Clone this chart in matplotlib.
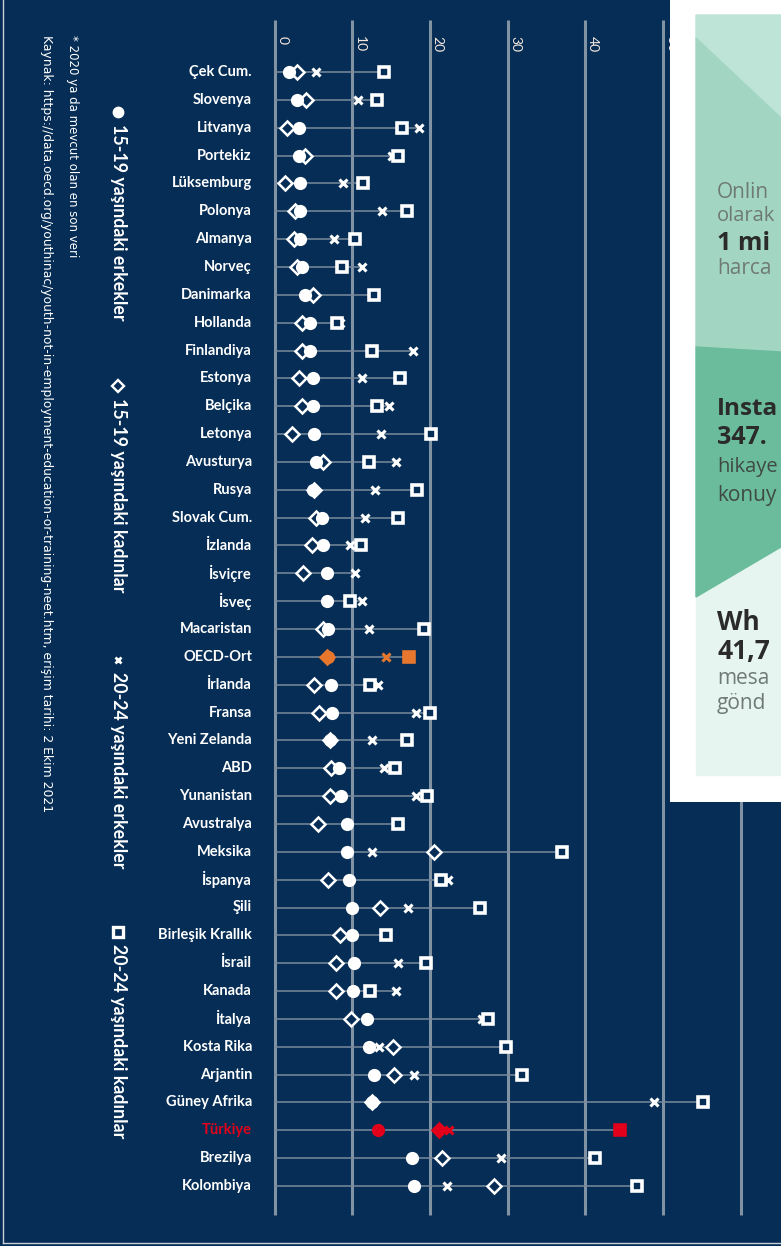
import numpy as np
import matplotlib.pyplot as plt
from matplotlib import font_manager
from matplotlib.patches import Polygon, Rectangle

nan = np.nan

countries = ["Çek Cum.", "Slovenya", "Litvanya", "Portekiz", "Lüksemburg", "Polonya",
             "Almanya", "Norveç", "Danimarka", "Hollanda", "Finlandiya", "Estonya",
             "Belçika", "Letonya", "Avusturya", "Rusya", "Slovak Cum.", "İzlanda",
             "İsviçre", "İsveç", "Macaristan", "OECD-Ort", "İrlanda", "Fransa",
             "Yeni Zelanda", "ABD", "Yunanistan", "Avustralya", "Meksika", "İspanya",
             "Şili", "Birleşik Krallık", "İsrail", "Kanada", "İtalya", "Kosta Rika",
             "Arjantin", "Güney Afrika", "Türkiye", "Brezilya", "Kolombiya"]

# 15-19 erkek (daire)
male_15_19 = [1.9, 2.9, 3.2, 3.2, 3.3, 3.3, 3.3, 3.5, 3.9, 4.6, 4.6, 4.9, 5.0, 5.1,
              5.3, 5.0, 6.1, 6.2, 6.8, 6.8, 6.9, 6.9, 7.3, 7.4, 7.1, 8.3, 8.5, 9.3,
              9.3, 9.6, 10.0, 10.0, 10.2, 10.1, 11.9, 12.2, 12.8, 12.6, 13.3, 17.7, 18.0]
# 15-19 kadin (elmas)
female_15_19 = [2.9, 4.1, 1.6, 3.9, 1.35, 2.6, 2.5, 2.9, 4.9, 3.5, 3.5, 3.2, 3.5, 2.2,
                6.2, 5.1, 5.3, 4.8, 3.7, nan, 6.2, 6.8, 5.1, 5.7, 7.1, 7.3, 7.1, 5.6,
                20.5, 6.9, 13.6, 8.4, 7.9, 7.9, 9.8, 15.2, 15.4, 12.6, 21.2, 21.6, 28.2]
# 20-24 erkek (x)
male_20_24 = [5.4, 10.7, 18.6, 15.1, 8.8, 13.8, 7.7, 11.3, nan, 8.4, 17.8, 11.3, 14.8, 13.7,
              15.6, 12.9, 11.6, 9.7, 10.3, 11.3, 12.2, 14.3, 13.3, 18.2, 12.6, 14.1, 18.2, nan,
              12.6, 22.3, 17.2, nan, 15.9, 15.7, 26.7, 13.4, 17.9, 48.9, 22.4, 29.2, 22.2]
# 20-24 kadin (kare)
female_20_24 = [14.1, 13.2, 16.4, 15.9, 11.4, 17.1, 10.4, 8.7, 12.8, 8.0, 12.5, 16.2, 13.2, 20.2,
                12.1, 18.3, 15.9, 11.1, nan, 9.7, 19.2, 17.3, 12.3, 20.0, 17.0, 15.5, 19.6, 15.9,
                37.0, 21.4, 26.4, 14.4, 19.5, 12.3, 27.5, 29.8, 31.8, 55.1, 44.5, 41.3, 46.6]

ticks = [0, 10, 20, 30, 40, 50, 60]
legend_labels = ["15-19 yaşındaki erkekler", "15-19 yaşındaki kadınlar",
                 "20-24 yaşındaki erkekler", "20-24 yaşındaki kadınlar"]

# pick a condensed font for the country names if there is one
names = {f.name for f in font_manager.fontManager.ttflist}
label_font = "Liberation Sans Narrow" if "Liberation Sans Narrow" in names else "Lato"

W, H = 781, 1246
X0, XS = 274.5, 7.77   # pixel of 0, pixels per unit
Y0, YS = 72, 27.85     # pixel of first row, pixels per row

def fx(px):
    return (px - X0) / XS

def fy(py):
    return (py - Y0) / YS

navy = "#052d55"
grid_c = "#8192a2"
line_c = "#7a8a9b"
red = "#e2001a"
orange = "#e8772e"

fig = plt.figure(figsize=(W / 100, H / 100), dpi=100)
fig.patch.set_facecolor(navy)
ax = fig.add_axes([0, 0, 1, 1])
ax.set_xlim(fx(0), fx(W))
ax.set_ylim(fy(H), fy(0))
ax.axis("off")

# page edge lines
ax.plot([fx(3), fx(3)], [fy(0), fy(1243)], color="#c9d0d8", lw=1, zorder=1)
ax.plot([fx(3), fx(W)], [fy(1243), fy(1243)], color="#c9d0d8", lw=1, zorder=1)

# grid
ax.vlines(ticks, fy(20), fy(1215), color=grid_c, lw=2.2, zorder=1)
for t in ticks:
    ax.text(t + 1.0, fy(36), str(t), rotation=-90, ha="center", va="top",
            color="#f6e9df", fontsize=10, family="Lato", zorder=3)

series = [male_20_24, female_15_19, male_15_19, female_20_24]
for i, name in enumerate(countries):
    vals = [s[i] for s in series]
    vmax = np.nanmax(vals)
    ax.hlines(i, 0, vmax, color=line_c, lw=1.1, zorder=2)
    if name == "Türkiye":
        col, face = red, red
    elif name == "OECD-Ort":
        col, face = orange, orange
    else:
        col, face = "white", navy
    ax.plot(male_20_24[i], i, marker="x", ms=5.5, mew=2.2, color=col, ls="none", zorder=4)
    ax.plot(female_15_19[i], i, marker="D", ms=7.3, mew=1.8, mec=col, mfc=face, ls="none", zorder=5)
    ax.plot(male_15_19[i], i, marker="o", ms=9.5, mew=0, mfc=col, ls="none", zorder=6)
    ax.plot(female_20_24[i], i, marker="s", ms=7.5, mew=2.6, mec=col, mfc=face, ls="none", zorder=7)
    ax.text(fx(252), i, name, ha="right", va="center", fontsize=10.5, fontweight="bold",
            family=[label_font, "DejaVu Sans"], color=red if name == "Türkiye" else "white")

# legend (rotated)
leg_x = fx(118)
leg_marks = [("o", 112), ("D", 386), ("x", 660), ("s", 932)]
for (m, py), lab in zip(leg_marks, legend_labels):
    if m == "o":
        ax.plot(leg_x, fy(py), marker="o", ms=8.5, mew=0, mfc="white", ls="none")
    elif m == "D":
        ax.plot(leg_x, fy(py), marker="D", ms=6.3, mew=1.7, mec="white", mfc=navy, ls="none")
    elif m == "x":
        ax.plot(leg_x, fy(py), marker="x", ms=5, mew=2, color="white", ls="none")
    else:
        ax.plot(leg_x, fy(py), marker="s", ms=7, mew=2.4, mec="white", mfc=navy, ls="none")
    ax.text(leg_x, fy(py + 12), lab, rotation=-90, ha="center", va="top", color="white",
            fontsize=12.8, fontweight="bold", family="Lato")

ax.text(fx(72), fy(35), "* 2020 ya da mevcut olan en son veri", rotation=-90,
        ha="center", va="top", color="white", fontsize=8.5, family="DejaVu Sans")
ax.text(fx(46), fy(35), "Kaynak: https://data.oecd.org/youthinac/youth-not-in-employment-"
        "education-or-training-neet.htm, erişim tarihi: 2 Ekim 2021", rotation=-90,
        ha="center", va="top", color="white", fontsize=8.9, family="DejaVu Sans")

# overlapping card on the right
ax2 = fig.add_axes([670 / W, 1 - 802 / H, (W - 670) / W, 802 / H])
ax2.set_zorder(5)
ax2.set_xlim(670, W)
ax2.set_ylim(802, 0)
ax2.axis("off")
ax2.add_patch(Rectangle((670, 0), W - 670, 802, color="white"))
ax2.add_patch(Rectangle((696, 15), W - 696, 760, color="#e6f5ef"))
ax2.add_patch(Polygon([(696, 15), (W, 15), (W, 118), (696, 38)], color="#bee4d7"))
ax2.add_patch(Polygon([(696, 38), (W, 118), (W, 352), (696, 347)], color="#a2d6c3"))
ax2.add_patch(Polygon([(696, 347), (W, 352), (W, 547), (696, 597)], color="#6bbc9d"))

grey_t = "#6f7a76"
dark_t = "#2b2b2b"
card_text = [("Onlin", 192, grey_t, "normal", 15), ("olarak", 216, grey_t, "normal", 14.5),
             ("1 mi", 243, dark_t, "bold", 18), ("harca", 269, grey_t, "normal", 15),
             ("Insta", 409, dark_t, "bold", 17.5), ("347.", 438, dark_t, "bold", 18),
             ("hikaye", 467, "#3f4a46", "normal", 14.5), ("konuy", 496, "#3f4a46", "normal", 15),
             ("Wh", 623, dark_t, "bold", 19), ("41,7", 651, dark_t, "bold", 19),
             ("mesa", 678, grey_t, "normal", 15), ("gönd", 703, grey_t, "normal", 15)]
for txt, py, c, w, fs in card_text:
    ax2.text(717, py, txt, ha="left", va="center", color=c, fontweight=w,
             fontsize=fs, family="Open Sans")

fig.savefig("out.png", dpi=100, facecolor=fig.get_facecolor())
